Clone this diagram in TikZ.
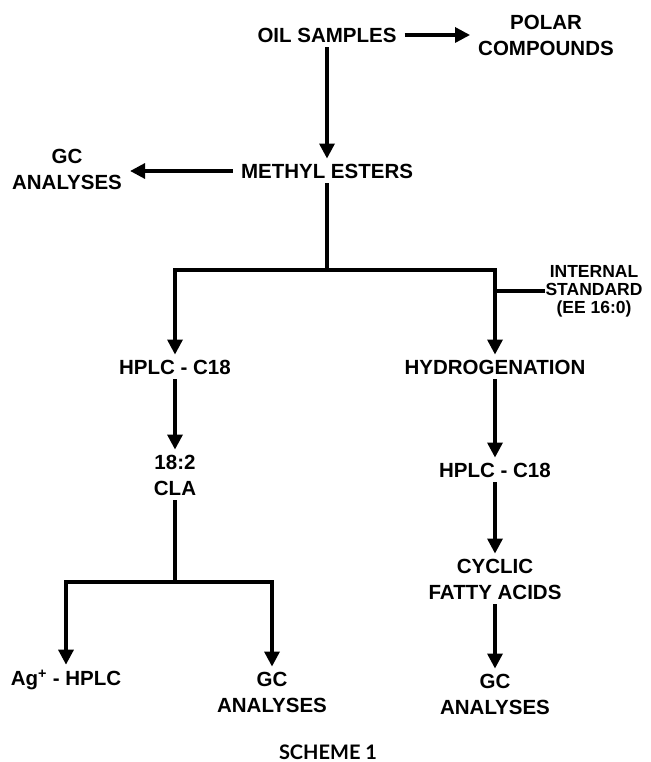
\documentclass[tikz,border=0pt]{standalone}
\usepackage{fontspec}
\setmainfont{Liberation Sans}
\newfontfamily\captionfont{Lato}
\usetikzlibrary{arrows.meta}

\begin{document}
\begin{tikzpicture}[
    x=1pt, y=-1pt,
    stage/.style={align=center, inner xsep=8pt, inner ysep=5pt,
        font=\fontsize{20.5}{26}\selectfont\bfseries},
    note/.style={align=center, inner sep=0pt,
        font=\fontsize{17.5}{18}\selectfont\bfseries},
    flow/.style={line width=3.3pt, -{Triangle[length=15pt,width=15pt]}},
    link/.style={line width=3.3pt, -}
]
    \useasboundingbox (0,0) rectangle (650,762);

    \node[stage] (oil) at (327,35) {OIL SAMPLES};
    \node[stage] (polar) at (546,35) {POLAR\\COMPOUNDS};
    \node[stage] (methyl) at (327,171) {METHYL ESTERS};
    \node[stage] (gcA) at (67,169) {GC\\ANALYSES};
    \coordinate (split) at (327,270);
    \node[note] (std) at (594,291) {INTERNAL\\STANDARD\\(EE 16:0)};
    \node[stage] (hplcA) at (175,367) {HPLC - C18};
    \node[stage] (hydro) at (495,367) {HYDROGENATION};
    \node[stage] (cla) at (175,475) {18:2\\CLA};
    \node[stage] (hplcB) at (495,470) {HPLC - C18};
    \coordinate (splitB) at (175,582);
    \node[stage] (cyclic) at (495,579) {CYCLIC\\FATTY ACIDS};
    \node[stage] (ag) at (66,680) {Ag\textsuperscript{+} - HPLC};
    \node[stage] (gcC) at (272,692) {GC\\ANALYSES};
    \node[stage] (gcD) at (495,694) {GC\\ANALYSES};
    \node[font=\captionfont\fontsize{20}{22}\selectfont\bfseries] (title) at (328,752) {SCHEME 1};

    \draw[flow] (oil.east) -- (oil.east -| polar.west);
    \draw[flow] (oil) -- (methyl);
    \draw[flow] (methyl.west) -- (methyl.west -| gcA.east);
    \draw[link] (methyl) -- (split);
    \draw[flow] (split) -| (hplcA);
    \draw[flow] (split) -| (hydro);
    \draw[link] (std.west) -- (std.west -| hydro);
    \draw[flow] (hplcA) -- (cla);
    \draw[link] (cla) -- (splitB);
    \draw[flow] (splitB) -| (ag);
    \draw[flow] (splitB) -| (gcC);
    \draw[flow] (hydro) -- (hplcB);
    \draw[flow] (hplcB) -- (cyclic);
    \draw[flow] (cyclic) -- (gcD);
\end{tikzpicture}
\end{document}
